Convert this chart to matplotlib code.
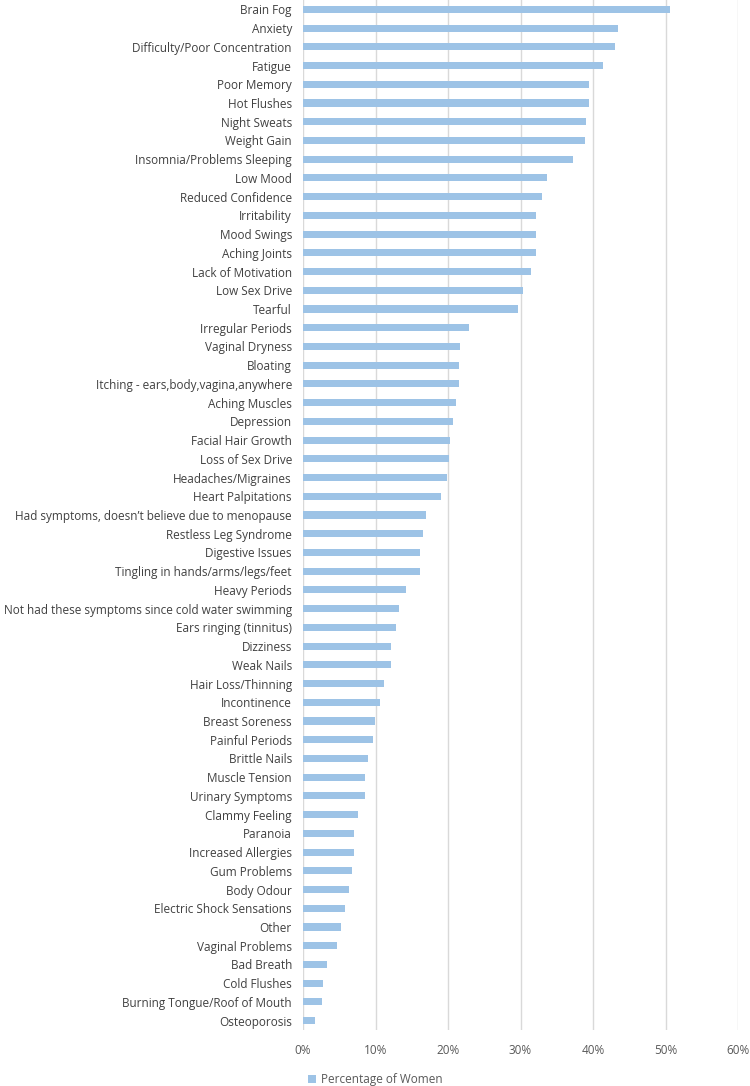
import numpy as np
import matplotlib.pyplot as plt
from matplotlib.ticker import FuncFormatter

plt.rcParams['font.family'] = ['Open Sans', 'DejaVu Sans']

symptoms = [
    "Brain Fog", "Anxiety", "Difficulty/Poor Concentration", "Fatigue", "Poor Memory",
    "Hot Flushes", "Night Sweats", "Weight Gain", "Insomnia/Problems Sleeping", "Low Mood",
    "Reduced Confidence", "Irritability", "Mood Swings", "Aching Joints", "Lack of Motivation",
    "Low Sex Drive", "Tearful", "Irregular Periods", "Vaginal Dryness", "Bloating",
    "Itching - ears,body,vagina,anywhere", "Aching Muscles", "Depression", "Facial Hair Growth",
    "Loss of Sex Drive", "Headaches/Migraines", "Heart Palpitations",
    "Had symptoms, doesn\u2019t believe due to menopause", "Restless Leg Syndrome",
    "Digestive Issues", "Tingling in hands/arms/legs/feet", "Heavy Periods",
    "Not had these symptoms since cold water swimming", "Ears ringing (tinnitus)", "Dizziness",
    "Weak Nails", "Hair Loss/Thinning", "Incontinence", "Breast Soreness", "Painful Periods",
    "Brittle Nails", "Muscle Tension", "Urinary Symptoms", "Clammy Feeling", "Paranoia",
    "Increased Allergies", "Gum Problems", "Body Odour", "Electric Shock Sensations", "Other",
    "Vaginal Problems", "Bad Breath", "Cold Flushes", "Burning Tongue/Roof of Mouth", "Osteoporosis",
]

# percentage of women reporting each symptom
pct = [
    50.6, 43.4, 43.0, 41.4, 39.4, 39.4, 39.0, 38.9, 37.2, 33.6,
    33.0, 32.2, 32.2, 32.1, 31.4, 30.3, 29.7, 22.9, 21.6, 21.5,
    21.5, 21.1, 20.7, 20.3, 20.2, 19.9, 19.1, 17.0, 16.6, 16.2,
    16.1, 14.2, 13.2, 12.8, 12.2, 12.1, 11.2, 10.6, 9.9, 9.7,
    8.9, 8.6, 8.5, 7.6, 7.1, 7.0, 6.8, 6.4, 5.8, 5.2,
    4.7, 3.3, 2.7, 2.6, 1.7,
]

fig = plt.figure(figsize=(7.5, 10.86), dpi=100)
ax = fig.add_axes([0.404, 0.0516, 0.58, 0.9484])

y = np.arange(len(symptoms))
ax.barh(y, pct, height=0.38, color="#9DC3E6", label="Percentage of Women", zorder=3)

ax.set_ylim(len(symptoms) - 0.5, -0.5)
ax.set_yticks(y)
ax.set_yticklabels(symptoms, fontsize=8.5, color="#404040")

ax.set_xlim(0, 60)
ax.set_xticks(range(0, 61, 10))
ax.xaxis.set_major_formatter(FuncFormatter(lambda v, p: f"{v:.0f}%"))
ax.tick_params(axis="x", labelsize=8.5, colors="#595959", length=0, pad=10)
ax.tick_params(axis="y", length=0, pad=8)

ax.grid(axis="x", color="#D9D9D9", linewidth=1, zorder=0)
for s in ax.spines.values():
    s.set_visible(False)

fig.legend(loc="lower center", bbox_to_anchor=(0.5, -0.01), frameon=False,
           fontsize=8.5, handlelength=0.7, handleheight=0.7, handletextpad=0.4,
           labelcolor="#595959")

fig.savefig("out.png", dpi=100)
